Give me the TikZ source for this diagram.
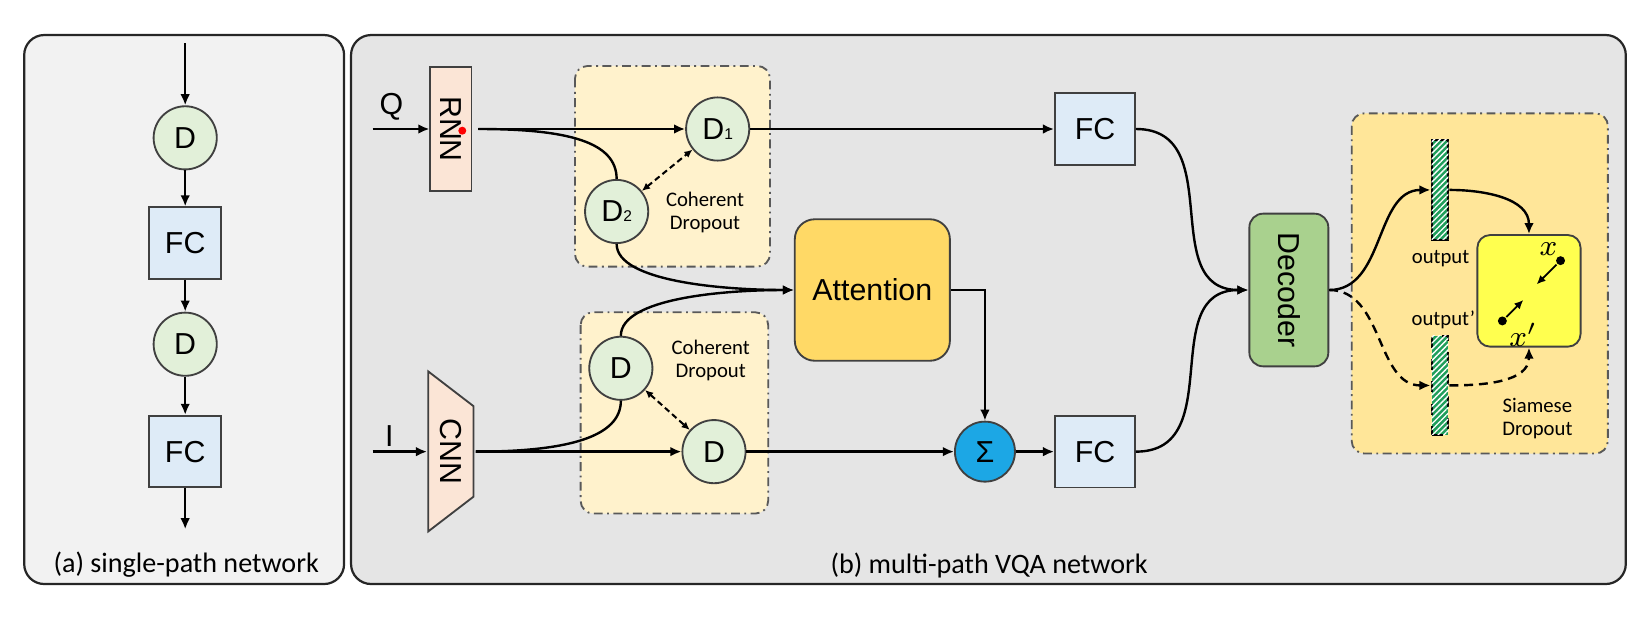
\documentclass[tikz,border=0pt]{standalone}
\usepackage{fontspec}
\usepackage{tikz}
\usetikzlibrary{arrows.meta,positioning,patterns.meta}
\newfontfamily\arialf{Liberation Sans}
\newfontfamily\calibf{Carlito}
\newcommand{\nodefont}{\arialf\fontsize{8.2}{9.8}\selectfont}
\newcommand{\notefont}{\calibf\fontsize{5.6}{6.2}\selectfont}
\newcommand{\capfont}{\calibf\fontsize{7.6}{9}\selectfont}
\newcommand{\subfont}{\arialf\fontsize{4.2}{5}\selectfont}
\definecolor{panelA}{HTML}{F2F2F2}
\definecolor{panelB}{HTML}{E5E5E5}
\definecolor{dropgreen}{HTML}{E2F0D9}
\definecolor{fcblue}{HTML}{DEEBF7}
\definecolor{encpeach}{HTML}{FBE5D6}
\definecolor{cohfill}{HTML}{FFF2CC}
\definecolor{attfill}{HTML}{FFD966}
\definecolor{sigfill}{HTML}{1CA7E5}
\definecolor{decfill}{HTML}{A9D18E}
\definecolor{siafill}{HTML}{FFE699}
\definecolor{simfill}{HTML}{FFFF4F}
\definecolor{bargreen}{HTML}{1F9E5A}
\tikzstyle{drop}=[circle,draw=black!75,line width=0.5pt,fill=dropgreen,minimum size=0.6cm,inner sep=0pt,font=\nodefont]
\tikzstyle{fc}=[rectangle,draw=black!75,line width=0.5pt,fill=fcblue,minimum width=0.76cm,minimum height=0.68cm,inner sep=0pt,font=\nodefont]
\tikzstyle{enc}=[draw=black!75,line width=0.5pt,fill=encpeach]
\tikzstyle{panel}=[draw=black!85,line width=0.6pt,rounded corners=0.19cm]
\tikzstyle{group}=[draw=black!65,line width=0.5pt,dash pattern=on 2.4pt off 1.2pt on 0.5pt off 1.2pt,rounded corners=0.12cm]
\tikzstyle{att}=[rectangle,draw=black!75,line width=0.5pt,fill=attfill,rounded corners=0.19cm,minimum width=1.473cm,minimum height=1.344cm,font=\nodefont]
\tikzstyle{sig}=[circle,draw=black!75,line width=0.5pt,fill=sigfill,minimum size=0.57cm,inner sep=0pt,font=\nodefont]
\tikzstyle{dec}=[rectangle,draw=black!75,line width=0.5pt,fill=decfill,rounded corners=0.13cm,minimum width=0.75cm,minimum height=1.45cm,inner sep=0pt,font=\nodefont]
\tikzstyle{bar}=[rectangle,draw=black,line width=0.6pt,fill=bargreen,postaction={pattern={Lines[angle=45,distance=1.1pt,line width=0.35pt]},pattern color=white},minimum width=0.158cm,minimum height=0.95cm,inner sep=0pt]
\tikzstyle{simbox}=[rectangle,draw=black!75,line width=0.5pt,fill=simfill,rounded corners=0.12cm,minimum width=0.98cm,minimum height=1.06cm]
\tikzstyle{pt}=[circle,fill=black,minimum size=0.085cm,inner sep=0pt]
\tikzstyle{reddot}=[circle,fill=red,minimum size=0.076cm,inner sep=0pt]
\tikzstyle{every edge}=[draw]

\begin{document}
\begin{tikzpicture}[x=0.01cm,y=-0.01cm,line width=0.65pt,>={Latex[length=3pt,width=2.6pt]},node distance=1cm]
  \useasboundingbox (0,0) rectangle (1568,587.3);
  % panels and dropout groups
  \draw[panel,fill=panelA] (23,33.3) rectangle (327,555);
  \draw[panel,fill=panelB] (333.6,33.3) rectangle (1545,555);
  \draw[group,fill=cohfill] (546.4,62.7) rectangle (731.7,253.4);
  \draw[group,fill=cohfill] (551.8,296.8) rectangle (730,488);
  \draw[group,fill=siafill] (1284.5,107.7) rectangle (1528,431);

  % (a) single path
  \coordinate (ain) at (176,41);
  \node[drop]        (a1) at (176,131) {D};
  \node[fc,minimum width=0.68cm] (a2) [below of=a1] {FC};
  \node[drop]        (a3) [below of=a2,node distance=0.96cm] {D};
  \node[fc,minimum width=0.68cm] (a4) [below of=a3,node distance=1.02cm] {FC};
  \coordinate (aout) at (176,503);
  \node[font=\capfont] (capa) at (177,537) {(a) single-path network};

  \path[->] (ain) edge (a1)
	(a1) edge (a2)
	(a2) edge (a3)
	(a3) edge (a4)
	(a4) edge (aout);

  % (b) multi path
  \node[font=\nodefont] (qlab) at (372,101.7) {Q};
  \coordinate (qin) at (354,122.6);
  \node[enc,minimum width=0.39cm,minimum height=1.17cm,inner sep=0pt,font=\nodefont] (rnn) at (428.5,122.6) {\rotatebox{-90}{RNN}};
  \node[reddot] (rdot) at (439.3,124.2) {};
  \coordinate (rout) at (454.6,122.6);
  \node[drop] (d1) at (682,122.6) {D{\subfont 1}};
  \node[drop] (d2) at (586,201) {D{\subfont 2}};
  \node[font=\notefont,align=center] (coh1) at (670,202.3) {Coherent\\Dropout};
  \node[fc] (fc1) at (1040.6,122.6) {FC};

  \node[font=\nodefont] (ilab) at (370,414) {I};
  \coordinate (iin) at (354,429.2);
  \draw[enc] (407,353) -- (450,386) -- (450,472) -- (407,505) -- cycle;
  \node[minimum width=0.43cm,minimum height=1.52cm,inner sep=0pt,font=\nodefont] (cnn) at (428.5,429.2) {\rotatebox{-90}{CNN}};
  \coordinate (cout) at (452,429.2);
  \node[drop] (du) at (590,350) {D};
  \node[drop] (dl) at (678.5,429.2) {D};
  \node[font=\notefont,align=center] (coh2) at (675.4,342.9) {Coherent\\Dropout};

  \node[att] (att) at (829,275.6) {Attention};
  \node[sig] (sig) at (936,429.2) {Σ};
  \node[fc] (fc2) at (1040.6,429.2) {FC};
  \node[dec] (dec) at (1224.8,275.6) {\rotatebox{-90}{Decoder}};
  \node[font=\capfont] (capb) at (940,537) {(b) multi-path VQA network};

  % siamese dropout
  \node[bar] (bar1) at (1368.4,180.5) {};
  \node[bar,dashed,minimum height=0.94cm] (bar2) at (1368.4,366.3) {};
  \node[font=\notefont] (olab1) at (1369,246) {output};
  \node[font=\notefont] (olab2) at (1371.6,303.5) {output’};
  \node[simbox] (sim) at (1453,276.4) {};
  \node[pt] (px) at (1483,247.7) {};
  \node[pt] (pxp) at (1427.7,305) {};
  \coordinate (pxa) at (1460.3,270.2);
  \coordinate (pxpa) at (1447.6,285.1);
  \node[font=\fontsize{8}{9}\selectfont] (xlab) at (1471.5,237) {$x$};
  \node[font=\fontsize{8}{9}\selectfont] (xplab) at (1447.6,318.4) {$x'$};
  \node[font=\notefont,align=center] (sialab) at (1461,397.7) {Siamese\\Dropout};

  \path[->] (qin) edge (rnn)
	(rout) edge (d1)
	(d1) edge (fc1)
	(iin) edge (cnn)
	(cout) edge (dl)
	(dl) edge (sig)
	(sig) edge (fc2)
	(fc1) edge[out=0,in=180,looseness=1.2] (dec)
	(fc2) edge[out=0,in=180,looseness=1.2] (dec)
	(dec) edge[out=0,in=180] (bar1)
	(bar1) edge[out=0,in=90] (sim);
  \path[->,line width=0.5pt,>={Latex[length=2.4pt,width=2.2pt]}] (px) edge (pxa)
	(pxp) edge (pxpa);
  \path[->,dash pattern=on 2.4pt off 1.6pt] (dec) edge[out=0,in=180] (bar2)
	(bar2) edge[out=0,in=270] (sim);
  \path[<->,line width=0.55pt,dash pattern=on 1.6pt off 1pt,>={Latex[length=2.2pt,width=2pt]}] (d2) edge (d1)
	(du) edge (dl);
  \draw (rout) .. controls (540,122.6) and (586,135) .. (d2.north);
  \draw (cout) .. controls (540,429.2) and (590,415) .. (du.south);
  \draw[->] (d2.south) .. controls (586,268) and (690,275.6) .. (att.west);
  \draw[->] (du.north) .. controls (590,283) and (690,275.6) .. (att.west);
  \draw[->] (att) -| (sig);
\end{tikzpicture}
\end{document}
